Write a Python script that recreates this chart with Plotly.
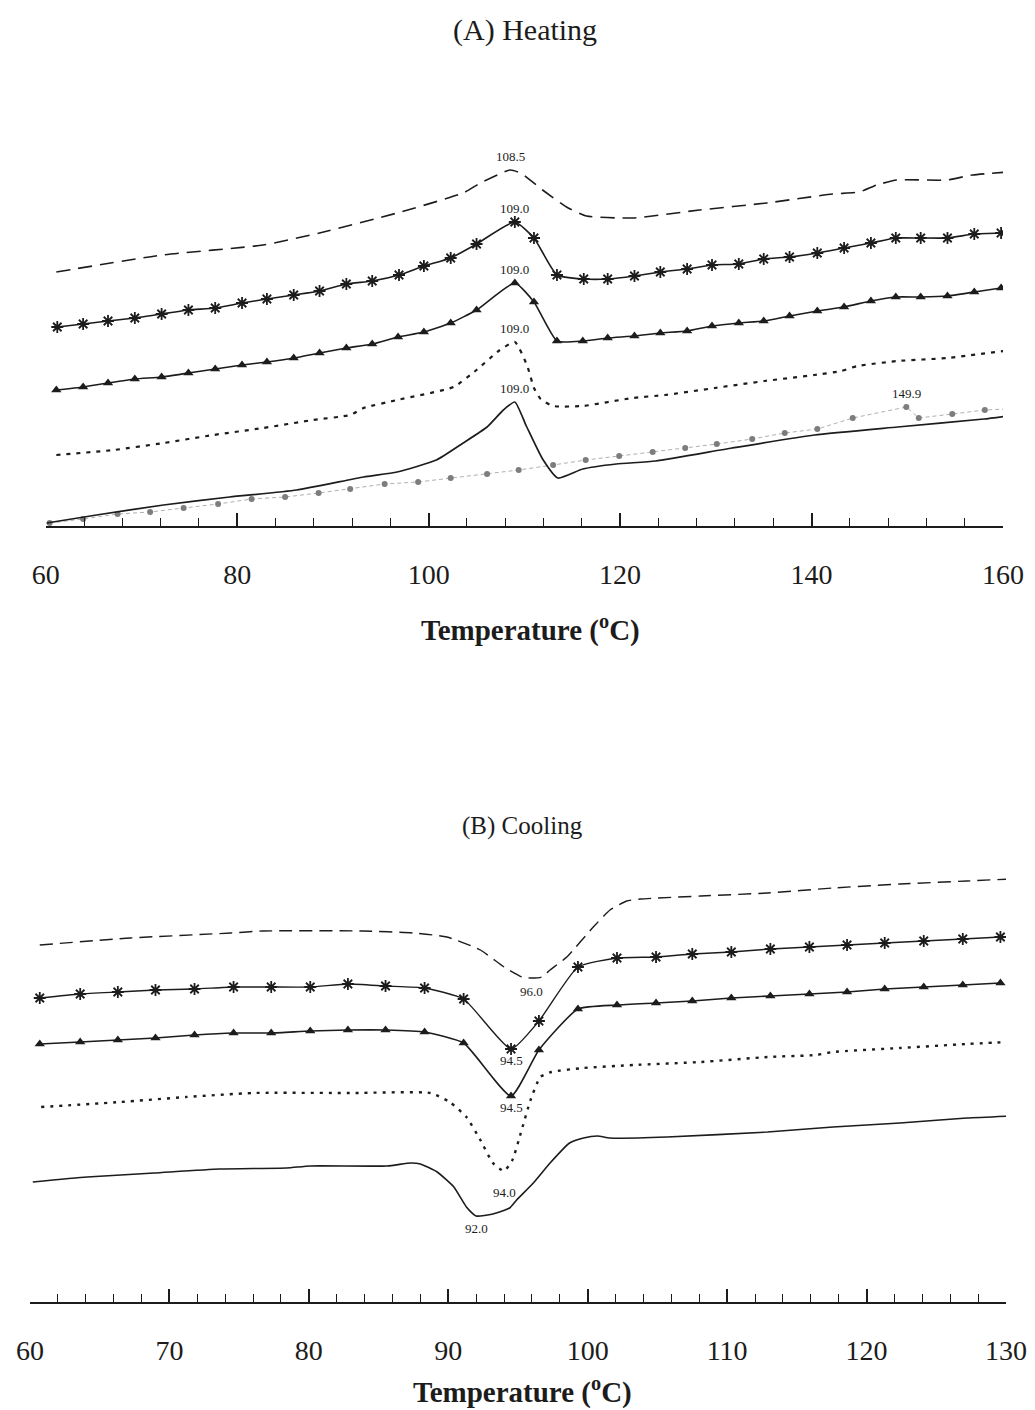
import plotly.graph_objects as go

# ---------------- (A) Heating scans: temperature (°C) vs offset heat flow (a.u.) ----------------
heat_dash_t = [61.1, 72.2, 82.7, 88.6, 96.7, 103.6, 105.4, 108.5, 109.6, 111.9, 114.4, 116.5,
               121.3, 128.3, 135.3, 142.2, 145.0, 146.8, 148.9, 154.1, 156.8, 160.6]
heat_dash_q = [254, 271, 281, 293, 313, 333, 343, 356, 353, 336, 319, 310,
               308, 316, 323, 332, 334, 341, 346, 346, 351, 354]

heat_star_t = [61.2, 63.9, 66.5, 69.3, 72.1, 74.9, 77.7, 80.5, 83.1, 85.9, 88.6, 91.4, 94.1,
               96.9, 99.5, 102.3, 105.0, 109.0, 111.0, 113.4, 116.2, 118.7, 121.5, 124.2,
               127.0, 129.6, 132.4, 135.0, 137.7, 140.6, 143.4, 146.2, 148.8, 151.4, 154.2,
               157.0, 159.8]
heat_star_q = [199, 202, 205, 208, 212, 216, 218, 223, 227, 231, 235, 242, 245,
               251, 260, 268, 282, 304, 288, 251, 247, 247, 250, 254,
               257, 261, 262, 267, 269, 273, 278, 283, 288, 288, 288,
               292, 293]

heat_tri_t = [61.1, 63.9, 66.5, 69.3, 72.1, 74.9, 77.7, 80.5, 83.1, 85.9, 88.6, 91.4, 94.1,
              96.8, 99.5, 102.3, 105.0, 109.0, 111.0, 113.4, 116.1, 118.7, 121.5, 124.2,
              127.0, 129.6, 132.4, 135.0, 137.7, 140.6, 143.4, 146.2, 148.8, 151.4, 154.2,
              157.0, 159.8]
heat_tri_q = [136, 139, 143, 147, 149, 153, 157, 161, 164, 168, 173, 178, 182,
              189, 194, 203, 216, 243, 224, 185, 185, 188, 190, 193,
              195, 200, 203, 205, 210, 215, 219, 225, 229, 229, 230,
              234, 238]

heat_dot_t = [61.1, 67.1, 72.3, 77.5, 82.7, 87.9, 91.8, 93.2, 96.7, 102.6, 105.0, 107.3, 109.0,
              110.3, 111.0, 111.7, 113.0, 116.1, 121.3, 124.7, 129.9, 135.1, 140.3, 143.1,
              144.8, 149.0, 154.2, 160.1]
heat_dot_q = [71, 76, 83, 91, 98, 106, 111, 118, 126, 139, 156, 175, 184,
              160, 138, 127, 120, 120, 128, 131, 138, 145, 151, 155,
              160, 165, 168, 175]

heat_solid_t = [60.1, 65.3, 72.3, 79.2, 86.2, 93.2, 96.7, 100.8, 103.6, 106.1, 107.8, 109.0,
                110.2, 111.9, 113.5, 116.1, 119.6, 123.7, 131.7, 140.3, 149.0, 158.0, 160.4]
heat_solid_q = [3, 11, 21, 29, 36, 49, 54, 66, 83, 99, 116, 124,
                100, 67, 48, 57, 62, 65, 78, 91, 99, 107, 110]

heat_grey_t = [60.4, 63.9, 67.5, 70.9, 74.4, 78.0, 81.5, 85.0, 88.5, 91.8, 95.4, 98.9, 102.3,
               106.1, 109.4, 113.0, 116.4, 119.9, 123.4, 126.8, 130.1, 133.8, 137.2, 140.6,
               144.3, 149.9, 151.2, 154.7, 158.1, 160.4]
heat_grey_q = [3, 7, 12, 14, 18, 22, 27, 29, 33, 37, 42, 44, 48,
               52, 56, 61, 66, 70, 74, 78, 82, 87, 93, 97,
               108, 119, 108, 112, 116, 117]

# peak temperatures printed above each heating trace
heat_peaks = [108.5, 109.0, 109.0, 109.0, 109.0, 149.9]

# ---------------- (B) Cooling scans ----------------
cool_dash_t = [60.7, 67.2, 74.4, 76.7, 83.9, 87.5, 89.9, 92.3, 94.0, 95.3, 96.0, 96.7,
               97.3, 98.5, 100.4, 101.6, 102.8, 103.8, 108.1, 112.9, 117.6, 122.4, 127.2, 130.3]
cool_dash_q = [357, 364, 369, 371, 371, 369, 365, 352, 335, 325, 324, 325,
               332, 345, 375, 392, 401, 403, 406, 409, 414, 418, 421, 423]

cool_star_t = [60.7, 63.6, 66.3, 69.0, 71.8, 74.6, 77.3, 80.1, 82.8, 85.5, 88.3, 91.1, 94.5,
               96.5, 99.3, 102.1, 104.9, 107.5, 110.3, 113.1, 115.9, 118.6, 121.3, 124.1,
               126.9, 129.6]
cool_star_q = [304, 308, 310, 312, 313, 315, 315, 315, 318, 316, 314, 303, 253,
               281, 335, 344, 345, 348, 350, 353, 355, 357, 359, 361,
               363, 365]

cool_tri_t = [60.7, 63.6, 66.3, 69.0, 71.8, 74.6, 77.3, 80.1, 82.8, 85.5, 88.3, 91.1, 94.5,
              96.5, 99.3, 102.1, 104.9, 107.5, 110.3, 113.1, 115.9, 118.6, 121.3, 124.1,
              126.9, 129.6]
cool_tri_q = [258, 260, 262, 264, 267, 269, 269, 271, 272, 272, 270, 259, 206,
              252, 293, 297, 299, 301, 304, 306, 308, 310, 313, 315,
              317, 319]

cool_dot_t = [60.8, 66.5, 71.2, 76.0, 83.2, 88.7, 90.1, 91.3, 92.3, 93.2, 94.0, 94.6, 95.2,
              95.9, 96.6, 97.4, 99.7, 103.3, 108.1, 112.9, 116.4, 117.6, 122.4, 127.2, 130.1]
cool_dot_q = [195, 200, 205, 209, 209, 209, 200, 185, 162, 139, 131, 142, 169,
              202, 225, 230, 234, 237, 240, 245, 247, 250, 254, 258, 260]

cool_solid_t = [60.2, 64.1, 68.9, 73.6, 78.4, 80.1, 85.6, 87.3, 88.0, 89.2, 90.4, 91.3, 92.0,
                93.2, 94.4, 94.9, 96.1, 97.3, 98.7, 99.7, 100.7, 101.6, 105.7, 112.9, 117.6,
                122.4, 127.2, 130.3]
cool_solid_q = [120, 125, 129, 133, 134, 136, 136, 139, 138, 130, 115, 95, 86,
                88, 94, 102, 119, 139, 159, 164, 166, 164, 165, 170, 175,
                179, 184, 186]

# crystallisation temperatures printed below each cooling trace
cool_peaks = [96.0, 94.5, 94.5, 94.0, 92.0]

INK = "#1c1c1c"
SERIF = "Liberation Serif, Times New Roman, serif"

fig = go.Figure()


def trace(xs, ys, panel, **kw):
    fig.add_trace(go.Scatter(
        x=xs, y=ys,
        xaxis="x" if panel == "A" else "x2",
        yaxis="y" if panel == "A" else "y2",
        hoverinfo="skip", showlegend=False, **kw))


SPL = dict(shape="spline", smoothing=0.5)

# heating panel
trace(heat_dash_t, heat_dash_q, "A", mode="lines",
      line=dict(color=INK, width=1.6, dash="14px,8px", **SPL))
trace(heat_star_t, heat_star_q, "A", mode="lines+markers",
      line=dict(color=INK, width=1.6, **SPL),
      marker=dict(symbol="asterisk-open", size=10, line=dict(color=INK, width=1.8)))
trace(heat_tri_t, heat_tri_q, "A", mode="lines+markers",
      line=dict(color=INK, width=1.6, **SPL),
      marker=dict(symbol="triangle-up", size=9, color=INK))
trace(heat_dot_t, heat_dot_q, "A", mode="lines",
      line=dict(color=INK, width=2.2, dash="4px,6px", **SPL))
trace(heat_grey_t, heat_grey_q, "A", mode="lines+markers",
      line=dict(color="#b0b0b0", width=1, dash="4px,3px"),
      marker=dict(symbol="circle", size=6, color="#7d7d7d"))
trace(heat_solid_t, heat_solid_q, "A", mode="lines",
      line=dict(color=INK, width=1.7, **SPL))

# cooling panel
trace(cool_dash_t, cool_dash_q, "B", mode="lines",
      line=dict(color=INK, width=1.4, dash="13px,7px", **SPL))
trace(cool_star_t, cool_star_q, "B", mode="lines+markers",
      line=dict(color=INK, width=1.4, **SPL),
      marker=dict(symbol="asterisk-open", size=10, line=dict(color=INK, width=1.8)))
trace(cool_tri_t, cool_tri_q, "B", mode="lines+markers",
      line=dict(color=INK, width=1.6, **SPL),
      marker=dict(symbol="triangle-up", size=9, color=INK))
trace(cool_dot_t, cool_dot_q, "B", mode="lines",
      line=dict(color=INK, width=2.4, dash="3px,6px", **SPL))
trace(cool_solid_t, cool_solid_q, "B", mode="lines",
      line=dict(color=INK, width=1.6, **SPL))

annotations = []


def value_at(ts, qs, t):
    return qs[min(range(len(ts)), key=lambda i: abs(ts[i] - t))]


heat_series = [(heat_dash_t, heat_dash_q), (heat_star_t, heat_star_q),
               (heat_tri_t, heat_tri_q), (heat_dot_t, heat_dot_q),
               (heat_solid_t, heat_solid_q), (heat_grey_t, heat_grey_q)]
for (ts, qs), tp in zip(heat_series, heat_peaks):
    annotations.append(dict(x=tp, y=value_at(ts, qs, tp), xref="x", yref="y",
                            text=f"{tp:.1f}", showarrow=False, xanchor="center",
                            yanchor="bottom", yshift=4,
                            font=dict(family=SERIF, size=13, color=INK)))

cool_series = [(cool_dash_t, cool_dash_q), (cool_star_t, cool_star_q),
               (cool_tri_t, cool_tri_q), (cool_dot_t, cool_dot_q),
               (cool_solid_t, cool_solid_q)]
cool_shift = [-4, -2, -2, -12, -3]
for (ts, qs), tp, dy in zip(cool_series, cool_peaks, cool_shift):
    annotations.append(dict(x=tp, y=value_at(ts, qs, tp), xref="x2", yref="y2",
                            text=f"{tp:.1f}", showarrow=False, xanchor="center",
                            yanchor="top", yshift=dy,
                            font=dict(family=SERIF, size=13, color=INK)))


def caption(text, px, py, size):
    return dict(x=px / 1035, y=1 - py / 1410, xref="paper", yref="paper", text=text,
                showarrow=False, xanchor="center", yanchor="middle",
                font=dict(family=SERIF, size=size, color=INK))


# panel titles and axis titles
annotations += [
    caption("(A) Heating", 525, 30, 30),
    caption("<b>Temperature (<sup>o</sup>C)</b>", 530, 628, 29),
    caption("(B) Cooling", 522, 826, 25),
    caption("<b>Temperature (<sup>o</sup>C)</b>", 522, 1390, 29),
]


def temp_axis(domain, anchor, rng, major, minor):
    return dict(domain=domain, anchor=anchor, range=rng, automargin=False,
                tickmode="linear", tick0=rng[0], dtick=major,
                ticks="inside", ticklen=13, tickwidth=1.6, tickcolor=INK,
                minor=dict(tick0=rng[0], dtick=minor, ticks="inside", ticklen=8,
                           tickwidth=1.3, tickcolor=INK),
                showline=True, linewidth=2, linecolor=INK,
                showgrid=False, zeroline=False, fixedrange=True,
                tickfont=dict(family=SERIF, size=28, color=INK),
                ticklabelstandoff=22)


fig.update_layout(
    width=1035, height=1410,
    margin=dict(l=0, r=0, t=0, b=0, autoexpand=False),
    paper_bgcolor="white", plot_bgcolor="white",
    xaxis=temp_axis([45.8 / 1035, 1003 / 1035], "y", [60, 160], 20, 4),
    yaxis=dict(domain=[1 - 526 / 1410, 1 - 140 / 1410], range=[0, 386], visible=False,
               fixedrange=True),
    xaxis2=temp_axis([30 / 1035, 1006 / 1035], "y2", [60, 130], 10, 2),
    yaxis2=dict(domain=[1 - 1302 / 1410, 1 - 852 / 1410], range=[0, 450], visible=False,
                fixedrange=True),
    annotations=annotations,
)

fig.write_html("out.html", config={"displayModeBar": False})
